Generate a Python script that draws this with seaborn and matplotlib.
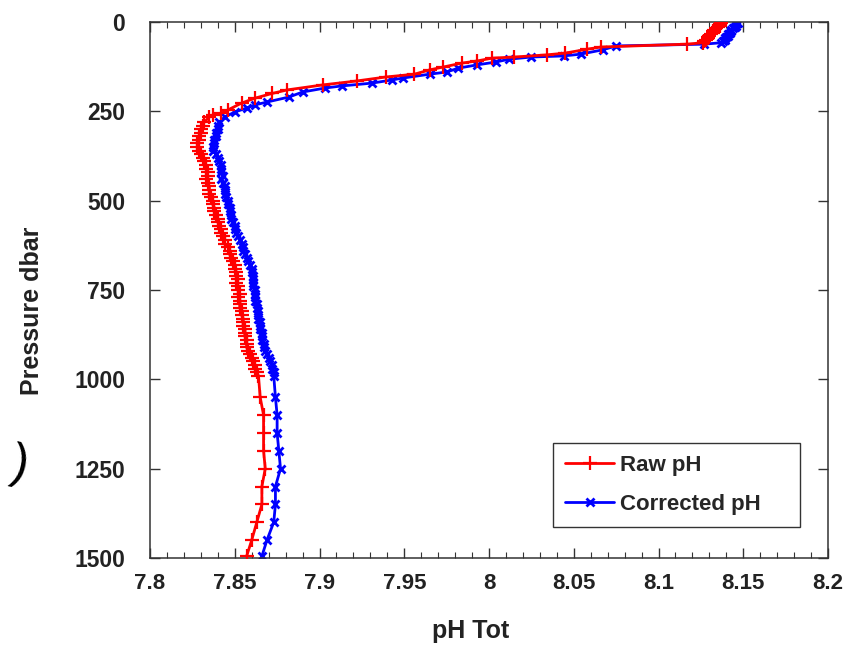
import numpy as np
import pandas as pd
import matplotlib
matplotlib.use("Agg")
import matplotlib.pyplot as plt
from matplotlib.ticker import MultipleLocator, FuncFormatter
from matplotlib.lines import Line2D
import seaborn as sns

# ---------------- data ----------------
raw_pressure = [2, 6, 10, 14, 18, 22, 26, 30, 34, 38, 42, 46, 50, 54, 58,
                62, 70, 76, 87, 92, 98, 101, 109, 115, 126, 134, 146, 154, 165, 176,
                190, 200, 213, 227, 246, 255, 260, 266, 280,
                290, 300, 310, 320, 330, 340, 350, 360, 370, 380, 390, 400, 410, 420,
                430, 440, 450, 460, 470, 480, 490, 500, 510, 520, 530, 540, 550, 560,
                570, 580, 590, 600, 610, 620, 630, 640, 650, 660, 670, 680, 690, 700,
                710, 720, 730, 740, 750, 760, 770, 780, 790, 800, 810, 820, 830, 840,
                850, 860, 870, 880, 890, 900, 910, 920, 930, 940, 950, 960, 970, 980, 990,
                1050, 1100, 1150, 1200, 1250, 1300, 1350, 1400, 1450, 1495]
raw_ph = [8.137, 8.136, 8.136, 8.135, 8.134, 8.133, 8.132, 8.132, 8.131, 8.130, 8.129, 8.129, 8.128, 8.127, 8.126,
          8.117, 8.066, 8.058, 8.045, 8.034, 8.015, 8.002, 7.993, 7.984, 7.973, 7.965, 7.956, 7.939, 7.922, 7.902,
          7.881, 7.872, 7.862, 7.854, 7.846, 7.842, 7.837, 7.835, 7.832,
          7.831, 7.830, 7.830, 7.829, 7.829, 7.828, 7.828, 7.829, 7.830, 7.831, 7.832, 7.833, 7.833, 7.834,
          7.834, 7.833, 7.834, 7.835, 7.835, 7.835, 7.836, 7.837, 7.837, 7.838, 7.838, 7.839, 7.840, 7.840,
          7.841, 7.842, 7.842, 7.843, 7.844, 7.844, 7.846, 7.847, 7.847, 7.848, 7.849, 7.850, 7.850, 7.851,
          7.851, 7.852, 7.851, 7.852, 7.852, 7.853, 7.852, 7.853, 7.853, 7.853, 7.854, 7.854, 7.855, 7.855,
          7.855, 7.856, 7.856, 7.856, 7.857, 7.857, 7.857, 7.858, 7.859, 7.860, 7.861, 7.862, 7.862, 7.863, 7.864,
          7.865, 7.867, 7.867, 7.867, 7.868, 7.866, 7.866, 7.863, 7.860, 7.857]

corr_pressure = [2, 6, 10, 14, 18, 22, 26, 30, 34, 38, 42, 46, 50, 54, 58,
                 62, 67, 78, 90, 95, 98, 104, 112, 120, 129, 140, 146, 157, 162, 171,
                 179, 185, 196, 210, 224, 232, 241, 252, 266, 280,
                 290, 300, 310, 320, 330, 340, 350, 360, 370, 380, 390, 400, 410, 420,
                 430, 440, 450, 460, 470, 480, 490, 500, 510, 520, 530, 540, 550, 560,
                 570, 580, 590, 600, 610, 620, 630, 640, 650, 660, 670, 680, 690, 700,
                 710, 720, 730, 740, 750, 760, 770, 780, 790, 800, 810, 820, 830, 840,
                 850, 860, 870, 880, 890, 900, 910, 920, 930, 940, 950, 960, 970, 980, 990,
                 1050, 1100, 1150, 1200, 1250, 1300, 1350, 1400, 1450, 1495]
corr_ph = [8.147, 8.146, 8.146, 8.145, 8.144, 8.143, 8.143, 8.142, 8.141, 8.141, 8.140, 8.139, 8.139, 8.138, 8.137,
           8.127, 8.075, 8.067, 8.054, 8.044, 8.025, 8.012, 8.004, 7.993, 7.982, 7.975, 7.965, 7.949, 7.943, 7.931,
           7.913, 7.903, 7.890, 7.882, 7.869, 7.862, 7.857, 7.850, 7.844, 7.841,
           7.840, 7.840, 7.839, 7.839, 7.838, 7.838, 7.837, 7.837, 7.839, 7.840, 7.841, 7.842, 7.842, 7.842,
           7.843, 7.842, 7.843, 7.844, 7.844, 7.844, 7.845, 7.846, 7.846, 7.847, 7.847, 7.848, 7.848, 7.849,
           7.850, 7.850, 7.851, 7.852, 7.853, 7.854, 7.855, 7.855, 7.856, 7.857, 7.858, 7.859, 7.860, 7.860,
           7.861, 7.861, 7.861, 7.861, 7.862, 7.862, 7.862, 7.862, 7.863, 7.863, 7.864, 7.864, 7.864, 7.865,
           7.865, 7.865, 7.866, 7.866, 7.866, 7.867, 7.867, 7.868, 7.869, 7.870, 7.871, 7.872, 7.872, 7.873, 7.873,
           7.874, 7.875, 7.875, 7.876, 7.877, 7.874, 7.874, 7.873, 7.869, 7.866]

series_names = ["Raw pH", "Corrected pH"]
x_ticks = [7.8, 7.85, 7.9, 7.95, 8.0, 8.05, 8.1, 8.15, 8.2]
y_ticks = [0, 250, 500, 750, 1000, 1250, 1500]

# ---------------- plot ----------------
sns.set_theme(style="white")
plt.rcParams["font.family"] = ["Liberation Sans", "DejaVu Sans"]
plt.rcParams["font.weight"] = "bold"

fig = plt.figure(figsize=(8.46, 6.45), dpi=100)
ax = fig.add_axes([150 / 846, (645 - 558) / 645, (828 - 150) / 846, (558 - 22) / 645])

df_raw = pd.DataFrame({"pH": raw_ph, "pressure": raw_pressure})
df_cor = pd.DataFrame({"pH": corr_ph, "pressure": corr_pressure})

sns.lineplot(data=df_raw, x="pH", y="pressure", sort=False, estimator=None,
             color="#ff0000", linewidth=2, marker="+", markersize=10,
             markeredgewidth=1.6, markeredgecolor="#ff0000", ax=ax, zorder=3)
sns.lineplot(data=df_cor, x="pH", y="pressure", sort=False, estimator=None,
             color="#0000ff", linewidth=2, marker="x", markersize=6,
             markeredgewidth=2, markeredgecolor="#0000ff", ax=ax, zorder=2)

ax.set_xlim(7.8, 8.2)
ax.set_ylim(1500, 0)
ax.set_xticks(x_ticks)
ax.set_yticks(y_ticks)
ax.xaxis.set_minor_locator(MultipleLocator(0.01))
ax.xaxis.set_major_formatter(FuncFormatter(lambda v, p: ("%.2f" % v).rstrip("0").rstrip(".")))

ax.tick_params(axis="x", which="major", direction="in", length=7, width=1,
               top=True, bottom=True, color="#333333", labelsize=16, pad=11)
ax.tick_params(axis="x", which="minor", direction="in", length=4, width=0.8,
               top=True, bottom=True, color="#333333")
ax.tick_params(axis="y", which="major", direction="in", length=7, width=1,
               left=True, right=True, color="#333333", labelsize=16.5, pad=18)
for lab in ax.get_xticklabels() + ax.get_yticklabels():
    lab.set_fontweight("bold")
    lab.set_color("#222222")

for s in ax.spines.values():
    s.set_color("#333333")
    s.set_linewidth(1.1)

ax.set_xlabel("")
ax.set_ylabel("")
fig.text(471 / 846, 1 - 631 / 645, "pH Tot", ha="center", va="center",
         fontsize=18, fontweight="bold", color="#222222")
fig.text(32 / 846, 1 - 311 / 645, "Pressure dbar", ha="center", va="center",
         rotation=90, fontsize=18, fontweight="bold", color="#222222")
fig.text(20 / 846, 1 - 465 / 645, ")", ha="center", va="center",
         rotation=-12, fontsize=36, fontweight="normal", color="black")

handles = [
    Line2D([], [], color="#ff0000", linewidth=2, marker="+", markersize=10, markeredgewidth=1.6),
    Line2D([], [], color="#0000ff", linewidth=2, marker="x", markersize=6, markeredgewidth=2),
]
leg = ax.legend(handles, series_names, loc="lower left", mode="expand",
                bbox_to_anchor=((553 - 150) / 678, (558 - 527) / 536, (800 - 553) / 678, 0.15),
                borderaxespad=0,
                prop={"size": 16, "weight": "bold"}, frameon=True, fancybox=False,
                framealpha=1, edgecolor="#333333", handlelength=2.2,
                handletextpad=0.25, borderpad=0.55, labelspacing=0.8, markerscale=1)
leg.get_frame().set_linewidth(1.0)

fig.savefig("out.png", dpi=100)
